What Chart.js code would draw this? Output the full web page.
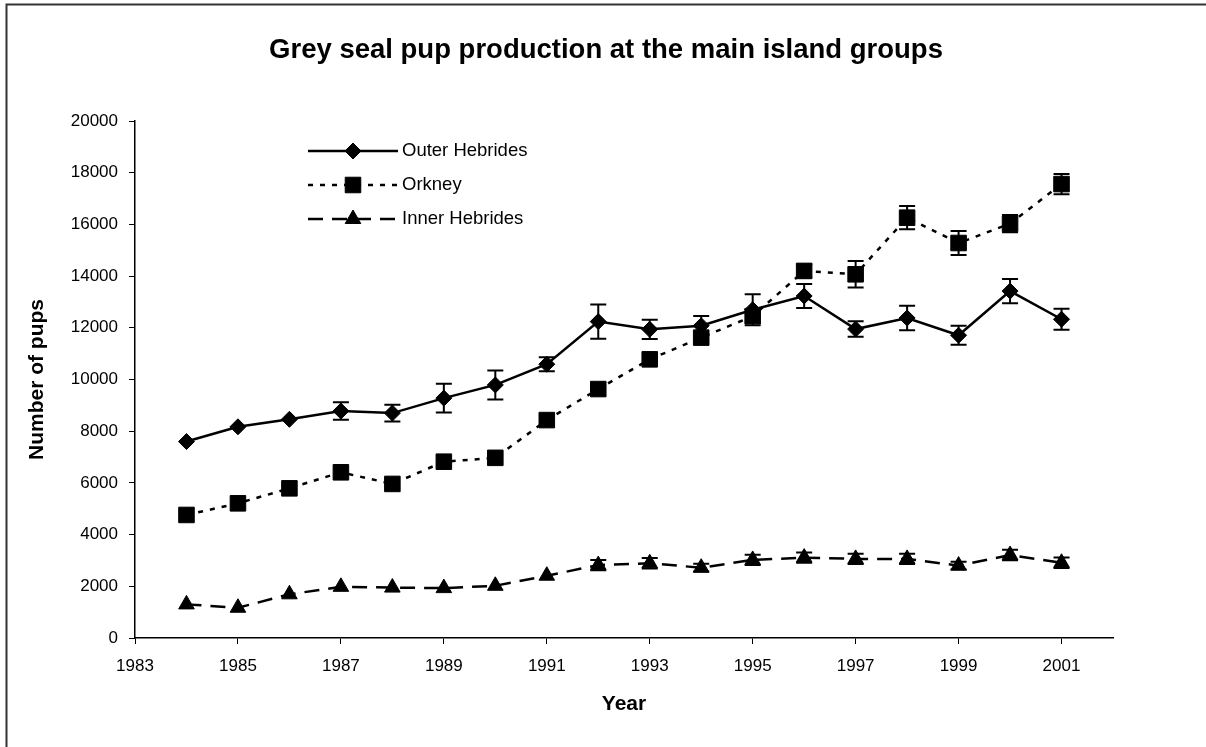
<!DOCTYPE html>
<html>
<head>
<meta charset="utf-8">
<title>Grey seal pup production</title>
<script src="https://cdn.jsdelivr.net/npm/chart.js@4/dist/chart.umd.min.js"></script>
<style>
  html, body { margin: 0; padding: 0; background: #fff; }
  #wrap { width: 1206px; height: 747px; }
</style>
</head>
<body>
<div id="wrap"><canvas id="sealChart" width="1206" height="747"></canvas></div>
<script>
// ---- data ----
const years = [1984, 1985, 1986, 1987, 1988, 1989, 1990, 1991, 1992, 1993,
               1994, 1995, 1996, 1997, 1998, 1999, 2000, 2001];

const outerHebrides    = [7600, 8170, 8460, 8780, 8700, 9280, 9790, 10590, 12240, 11940,
                          12080, 12700, 13230, 11950, 12380, 11710, 13420, 12330];
const outerHebridesErr = [0, 0, 0, 340, 320, 560, 560, 270, 660, 370,
                          380, 600, 460, 300, 470, 370, 470, 410];

const orkney    = [4760, 5210, 5790, 6410, 5960, 6820, 6970, 8430, 9630, 10780,
                   11620, 12450, 14200, 14070, 16260, 15280, 16030, 17560];
const orkneyErr = [0, 0, 0, 0, 0, 0, 0, 0, 0, 0,
                   0, 0, 250, 510, 450, 460, 330, 390];

const innerHebrides    = [1300, 1170, 1690, 1980, 1950, 1930, 2020, 2410, 2820, 2890,
                          2720, 3020, 3110, 3060, 3060, 2800, 3210, 2910];
const innerHebridesErr = [0, 0, 0, 0, 0, 0, 0, 0, 200, 200,
                          150, 200, 200, 200, 200, 150, 200, 200];

const seriesNames = ["Outer Hebrides", "Orkney", "Inner Hebrides"];
const xTickYears = [1983, 1985, 1987, 1989, 1991, 1993, 1995, 1997, 1999, 2001];

const FONT = "'Liberation Sans', Arial, sans-serif";

const toPoints = (vals) => vals.map((v, i) => ({ x: years[i], y: v }));

// error bars drawn through the chart's own scales
const errorBarPlugin = {
    id: "errorBars",
    afterDatasetsDraw(chart) {
        const { ctx, scales: { x, y } } = chart;
        ctx.save();
        ctx.strokeStyle = "#000";
        ctx.lineWidth = 2;
        chart.data.datasets.forEach((ds) => {
            if (!ds.errors) return;
            ds.data.forEach((p, i) => {
                const e = ds.errors[i];
                if (!e) return;
                const px = x.getPixelForValue(p.x);
                const top = y.getPixelForValue(p.y + e);
                const bot = y.getPixelForValue(p.y - e);
                ctx.beginPath();
                ctx.moveTo(px, top); ctx.lineTo(px, bot);
                ctx.moveTo(px - 8, top); ctx.lineTo(px + 8, top);
                ctx.moveTo(px - 8, bot); ctx.lineTo(px + 8, bot);
                ctx.stroke();
            });
        });
        ctx.restore();
    },
};

// legend with dashed line samples and markers, like the original
const seriesLegendPlugin = {
    id: "seriesLegend",
    afterDraw(chart) {
        const { ctx, chartArea } = chart;
        const x0 = chartArea.left + 173;
        const x1 = chartArea.left + 263;
        ctx.save();
        chart.data.datasets.forEach((ds, i) => {
            const yy = chartArea.top + 30 + i * 34;
            ctx.strokeStyle = "#000";
            ctx.lineWidth = ds.borderWidth;
            ctx.setLineDash(ds.borderDash || []);
            ctx.beginPath();
            ctx.moveTo(x0, yy);
            ctx.lineTo(x1, yy);
            ctx.stroke();
            ctx.setLineDash([]);
            ctx.fillStyle = "#000";
            ctx.lineWidth = 1;
            Chart.helpers.drawPoint(ctx, {
                pointStyle: ds.pointStyle,
                radius: ds.pointRadius,
                borderWidth: 1,
                rotation: 0,
            }, (x0 + x1) / 2, yy);
            ctx.font = "18.5px " + FONT;
            ctx.textAlign = "left";
            ctx.textBaseline = "middle";
            ctx.fillText(ds.label, x1 + 4, yy);
        });
        ctx.restore();
    },
};

// outer frame (top + left) and the centred title
const frameTitlePlugin = {
    id: "frameTitle",
    afterDraw(chart) {
        const { ctx } = chart;
        ctx.save();
        ctx.strokeStyle = "#333";
        ctx.lineWidth = 2;
        ctx.beginPath();
        ctx.moveTo(6.5, chart.height);
        ctx.lineTo(6.5, 4.5);
        ctx.lineTo(chart.width, 4.5);
        ctx.stroke();
        ctx.fillStyle = "#000";
        ctx.font = "bold 27.5px " + FONT;
        ctx.textAlign = "center";
        ctx.textBaseline = "middle";
        ctx.fillText("Grey seal pup production at the main island groups", 606, 50);
        ctx.restore();
    },
};

const ctx = document.getElementById("sealChart").getContext("2d");

new Chart(ctx, {
    type: "line",
    data: {
        datasets: [
            {
                label: seriesNames[0],
                data: toPoints(outerHebrides),
                errors: outerHebridesErr,
                borderColor: "#000",
                backgroundColor: "#000",
                borderWidth: 2.5,
                pointStyle: "rectRot",
                pointRadius: 8,
                pointBorderWidth: 1,
                tension: 0,
            },
            {
                label: seriesNames[1],
                data: toPoints(orkney),
                errors: orkneyErr,
                borderColor: "#000",
                backgroundColor: "#000",
                borderWidth: 2.5,
                borderDash: [5, 7],
                pointStyle: "rect",
                pointRadius: 11,
                pointBorderWidth: 1,
                tension: 0,
            },
            {
                label: seriesNames[2],
                data: toPoints(innerHebrides),
                errors: innerHebridesErr,
                borderColor: "#000",
                backgroundColor: "#000",
                borderWidth: 2.5,
                borderDash: [15, 9],
                pointStyle: "triangle",
                pointRadius: 9,
                pointBorderWidth: 1,
                tension: 0,
            },
        ],
    },
    options: {
        responsive: false,
        animation: false,
        devicePixelRatio: 1,
        layout: { padding: { left: 20, right: 93, top: 121, bottom: 0 } },
        plugins: {
            legend: { display: false },
            title: { display: false },
            tooltip: { enabled: false },
        },
        scales: {
            x: {
                type: "linear",
                min: 1983,
                max: 2002,
                afterBuildTicks: (axis) => { axis.ticks = xTickYears.map((v) => ({ value: v })); },
                afterFit: (axis) => { axis.height = 109; },
                ticks: {
                    color: "#000",
                    font: { family: FONT, size: 17 },
                    padding: 12,
                    maxRotation: 0,
                    callback: (v) => String(v),
                },
                grid: { drawOnChartArea: false, drawTicks: true, tickLength: 6, color: "#000" },
                border: { color: "#000", width: 1.5 },
                title: {
                    display: true,
                    text: "Year",
                    color: "#000",
                    font: { family: FONT, size: 21, weight: "bold" },
                    padding: { top: 0, bottom: 30 },
                },
            },
            y: {
                min: 0,
                max: 20000,
                afterFit: (axis) => { axis.width = 115; },
                ticks: {
                    stepSize: 2000,
                    color: "#000",
                    font: { family: FONT, size: 17 },
                    padding: 11,
                    callback: (v) => String(v),
                },
                grid: { drawOnChartArea: false, drawTicks: true, tickLength: 6, color: "#000" },
                border: { color: "#000", width: 1.5 },
                title: {
                    display: true,
                    text: "Number of pups",
                    color: "#000",
                    font: { family: FONT, size: 21, weight: "bold" },
                    padding: { top: 5, bottom: 0 },
                },
            },
        },
    },
    plugins: [errorBarPlugin, seriesLegendPlugin, frameTitlePlugin],
});
</script>
</body>
</html>
